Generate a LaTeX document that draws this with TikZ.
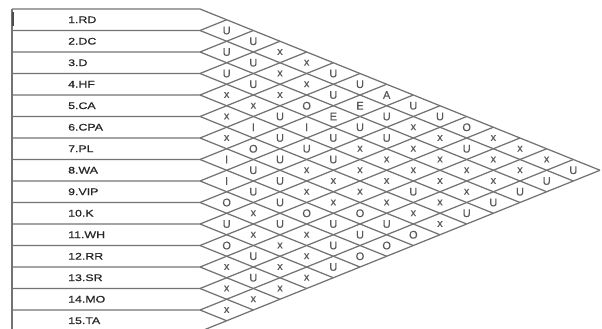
\documentclass[tikz,border=0pt]{standalone}
\usepackage{fontspec}
\usepackage{graphicx}
\setmainfont{Liberation Sans}
\newfontfamily\labfont[FakeBold=0.6]{Liberation Sans}
\newfontfamily\cellfont[FakeBold=0.5]{Liberation Sans}
\begin{document}
\begin{tikzpicture}[x=1pt,y=-1pt,
  grid/.style={draw=black!55,line width=1.25pt},
  lbl/.style={anchor=west,inner sep=0pt,font=\labfont\fontsize{9.5}{12}\selectfont,text=black!85},
  cell/.style={inner sep=0pt,font=\cellfont\fontsize{11}{13}\selectfont,text=black!65}]
\useasboundingbox (0,0) rectangle (602,329);
% row boundaries and diagonal grid
\draw[grid] (12,9) -- (12,331.5);
\draw[draw=black!70,line width=2pt] (12.5,12) -- (12.5,26);
\foreach \k in {0,...,15} {
  \pgfmathsetmacro\bb{9+21.5*\k}
  \pgfmathsetmacro\xd{200+(15-\k)*26.667}
  \pgfmathsetmacro\yd{(\bb+331.5)/2}
  \pgfmathsetmacro\xu{200+\k*26.667}
  \pgfmathsetmacro\yu{(9+\bb)/2}
  \draw[grid] (12,\bb) -- (200,\bb) -- (\xd,\yd);
  \draw[grid] (200,\bb) -- (\xu,\yu);
}
% row labels
\foreach \k/\t in {1/1.RD,2/2.DC,3/3.D,4/4.HF,5/5.CA,6/6.CPA,7/7.PL,8/8.WA,9/9.VIP,10/10.K,11/11.WH,12/12.RR,13/13.SR,14/14.MO,15/15.TA}
  \node[lbl] (r\k) at (68,{-1.75+21.5*\k}) {\scalebox{1.3}[1]{\t}};
% relationship cells
\foreach \i/\j/\t in {
 1/2/U,2/3/U,3/4/U,4/5/x,5/6/x,6/7/x,7/8/I,8/9/I,9/10/O,10/11/U,11/12/O,12/13/x,13/14/x,14/15/x,
 1/3/U,2/4/U,3/5/U,4/6/x,5/7/I,6/8/O,7/9/U,8/10/U,9/11/x,10/12/x,11/13/U,12/14/U,13/15/x,
 1/4/x,2/5/x,3/6/x,4/7/U,5/8/U,6/9/U,7/10/U,8/11/U,9/12/U,10/13/x,11/14/x,12/15/x,
 1/5/x,2/6/x,3/7/O,4/8/I,5/9/U,6/10/x,7/11/x,8/12/O,9/13/x,10/14/x,11/15/x,
 1/6/U,2/7/U,3/8/E,4/9/U,5/10/U,6/11/x,7/12/x,8/13/U,9/14/U,10/15/U,
 1/7/U,2/8/E,3/9/U,4/10/x,5/11/x,6/12/x,7/13/O,8/14/U,9/15/O,
 1/8/A,2/9/U,3/10/U,4/11/x,5/12/x,6/13/x,7/14/U,8/15/O,
 1/9/U,2/10/x,3/11/x,4/12/x,5/13/U,6/14/x,7/15/O,
 1/10/U,2/11/x,3/12/x,4/13/x,5/14/x,6/15/x,
 1/11/O,2/12/U,3/13/x,4/14/x,5/15/U,
 1/12/x,2/13/x,3/14/x,4/15/U,
 1/13/x,2/14/x,3/15/U,
 1/14/x,2/15/U,
 1/15/U}
  \node[cell] (c\i-\j) at ({200+(\j-\i)*26.667},{-1.75+10.75*(\i+\j)}) {\t};
\end{tikzpicture}
\end{document}
